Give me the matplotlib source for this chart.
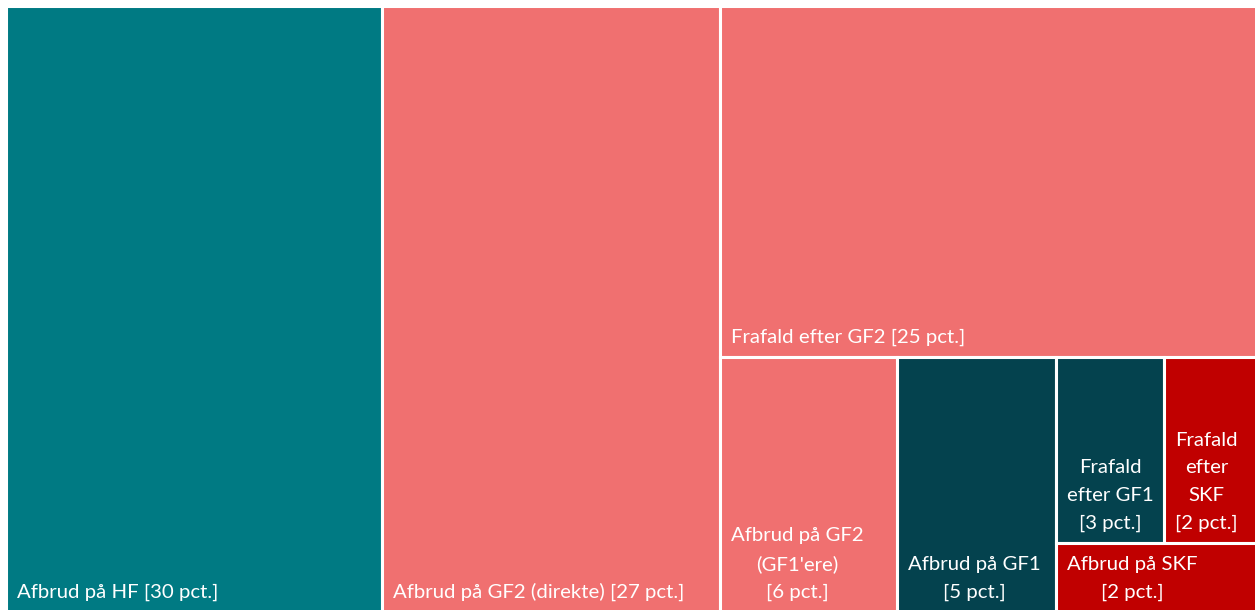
import matplotlib
matplotlib.use("Agg")
import matplotlib.pyplot as plt
from matplotlib.patches import Rectangle

# ---- data ----
labels = [
    "Afbrud på HF [30 pct.]",
    "Afbrud på GF2 (direkte) [27 pct.]",
    "Frafald efter GF2 [25 pct.]",
    "Afbrud på GF2\n(GF1'ere)\n[6 pct.]",
    "Afbrud på GF1\n[5 pct.]",
    "Frafald\nefter GF1\n[3 pct.]",
    "Frafald\nefter\nSKF\n[2 pct.]",
    "Afbrud på SKF\n[2 pct.]",
]
values = [30.06, 26.98, 24.85, 5.94, 5.36, 2.65, 2.30, 1.85]
colors = ["#007A83", "#F07070", "#F07070", "#F07070",
          "#04424E", "#04424E", "#C00000", "#C00000"]

# ---- figure geometry (pixels) ----
FW, FH, DPI = 1255, 610, 100
X0, Y0, X1, Y1 = 6, 6, 1258, 612   # treemap extent in figure pixels (y down)
W, H = X1 - X0, Y1 - Y0


def worst(row, w):
    s = sum(row)
    return max(max(w * w * r / (s * s), (s * s) / (w * w * r)) for r in row)


def layout_row(row, x, y, dx, dy, rects):
    s = sum(row)
    if dx >= dy:  # column on the left
        cw = s / dy
        cy = y
        for r in row:
            h = r / cw
            rects.append((x, cy, cw, h))
            cy += h
        return x + cw, y, dx - cw, dy
    else:  # row on top
        rh = s / dx
        cx = x
        for r in row:
            w = r / rh
            rects.append((cx, y, w, rh))
            cx += w
        return x, y + rh, dx, dy - rh


def squarify(vals, x, y, dx, dy):
    total = sum(vals)
    areas = [v / total * dx * dy for v in vals]
    rects = []
    row = []
    i = 0
    while i < len(areas):
        side = min(dx, dy)
        a = areas[i]
        if not row or worst(row + [a], side) <= worst(row, side):
            row.append(a)
            i += 1
        else:
            x, y, dx, dy = layout_row(row, x, y, dx, dy, rects)
            row = []
    if row:
        layout_row(row, x, y, dx, dy, rects)
    return rects


rects = squarify(values, 0, 0, W, H)

fig = plt.figure(figsize=(FW / DPI, FH / DPI), dpi=DPI)
ax = fig.add_axes([X0 / FW, 1 - Y1 / FH, W / FW, H / FH])
ax.set_xlim(0, W)
ax.set_ylim(H, 0)
ax.axis("off")

for (x, y, w, h), lab, col in zip(rects, labels, colors):
    ax.add_patch(Rectangle((x, y), w, h, facecolor=col, edgecolor="white",
                           linewidth=2.2, clip_on=False))
    ax.text(x + 11, y + h - 11, lab, ha="left", va="bottom",
            multialignment="center", color="white", fontsize=14.65,
            family=["Lato", "DejaVu Sans"], linespacing=1.75)

fig.savefig("out.png", dpi=DPI)
